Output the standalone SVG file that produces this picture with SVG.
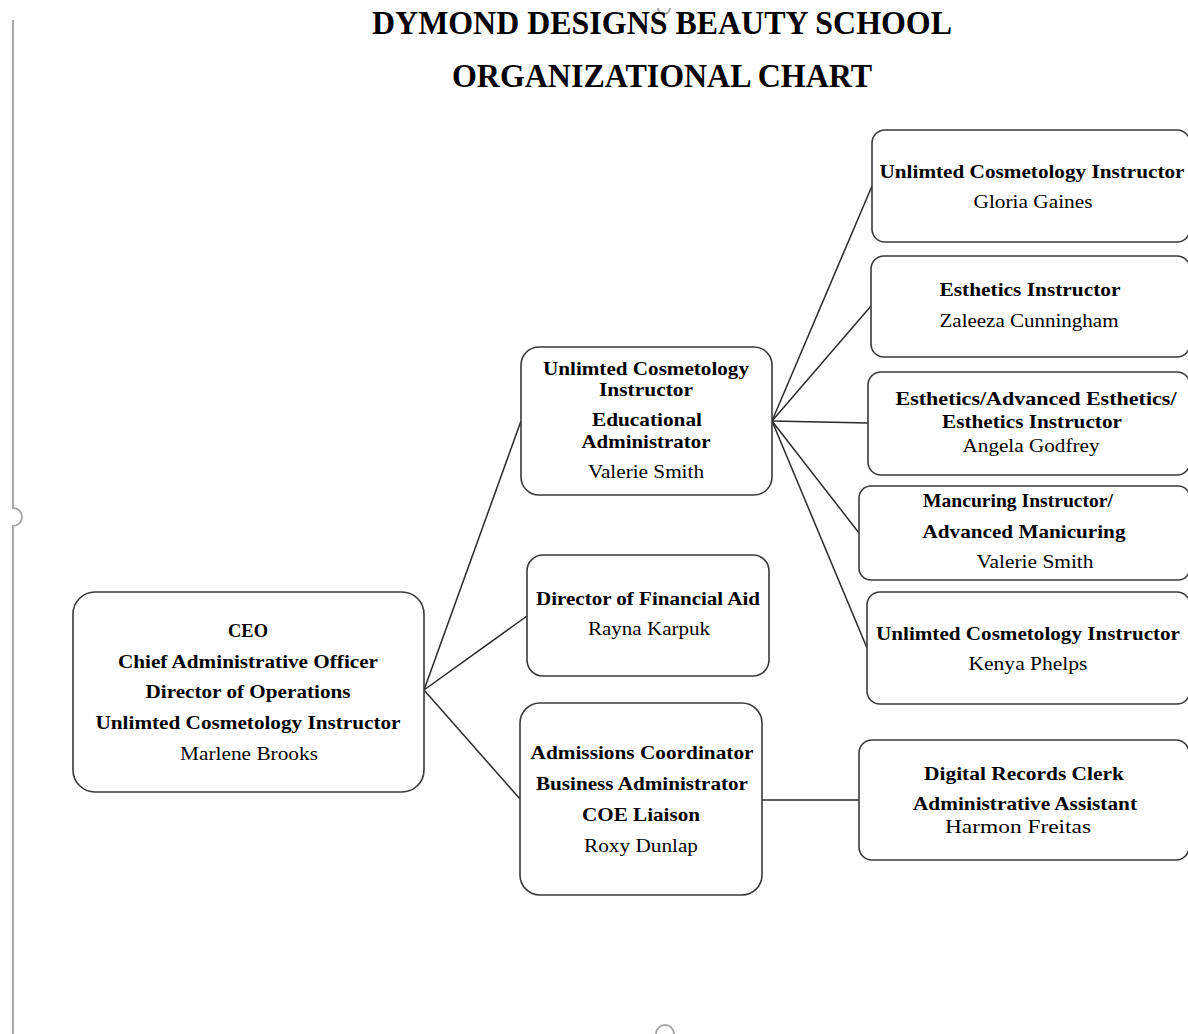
<svg xmlns="http://www.w3.org/2000/svg" width="1188" height="1034" viewBox="0 0 1188 1034">
<style>
.box{fill:#fff;stroke:#3a3a3a;stroke-width:1.6}
.t{font-family:"Liberation Serif","Times New Roman",serif;font-size:19px;font-weight:bold;fill:#000;text-anchor:middle}
.n{font-family:"Liberation Serif","Times New Roman",serif;font-size:19px;fill:#000;text-anchor:middle}
.title{font-family:"Liberation Serif","Times New Roman",serif;font-size:33px;font-weight:bold;fill:#000;text-anchor:middle}
.conn line{stroke:#2a2a2a;stroke-width:1.5}
.frame{fill:none;stroke:#a8a8a8;stroke-width:2}
</style>
<rect width="1188" height="1034" fill="#fff"/>
<g id="frame">
<path class="frame" d="M13 20 V508 A9 9 0 0 1 13 526 V1034"/>
<path class="frame" d="M658 8 A6 6 0 0 0 670 8"/>
<path class="frame" d="M656 1034 A9 9 0 0 1 674 1034"/>
</g>
<g id="title">
<text class="title" x="662" y="34" textLength="580" lengthAdjust="spacingAndGlyphs">DYMOND DESIGNS BEAUTY SCHOOL</text>
<text class="title" x="662" y="87" textLength="420" lengthAdjust="spacingAndGlyphs">ORGANIZATIONAL CHART</text>
</g>
<g class="conn" id="connectors">
<line x1="424" y1="690" x2="521" y2="421"/>
<line x1="424" y1="690" x2="527" y2="616"/>
<line x1="424" y1="690" x2="520" y2="799"/>
<line x1="772" y1="421" x2="872" y2="186"/>
<line x1="772" y1="421" x2="871" y2="306"/>
<line x1="772" y1="421" x2="868" y2="423"/>
<line x1="772" y1="421" x2="859" y2="533"/>
<line x1="772" y1="421" x2="867" y2="648"/>
<line x1="762" y1="800" x2="859" y2="800"/>
</g>
<g id="ceo">
<rect class="box" x="73" y="592" width="351" height="200" rx="22"/>
<text class="t" x="248" y="637" textLength="40" lengthAdjust="spacingAndGlyphs">CEO</text>
<text class="t" x="248" y="668" textLength="260" lengthAdjust="spacingAndGlyphs">Chief Administrative Officer</text>
<text class="t" x="248" y="698" textLength="205" lengthAdjust="spacingAndGlyphs">Director of Operations</text>
<text class="t" x="248" y="729" textLength="305" lengthAdjust="spacingAndGlyphs">Unlimted Cosmetology Instructor</text>
<text class="n" x="249" y="760" textLength="138" lengthAdjust="spacingAndGlyphs">Marlene Brooks</text>
</g>
<g id="valerie-ed">
<rect class="box" x="521" y="347" width="251" height="148" rx="18"/>
<text class="t" x="646" y="375" textLength="206" lengthAdjust="spacingAndGlyphs">Unlimted Cosmetology</text>
<text class="t" x="646" y="396" textLength="94" lengthAdjust="spacingAndGlyphs">Instructor</text>
<text class="t" x="647" y="426" textLength="110" lengthAdjust="spacingAndGlyphs">Educational</text>
<text class="t" x="646" y="448" textLength="129" lengthAdjust="spacingAndGlyphs">Administrator</text>
<text class="n" x="646" y="478" textLength="116" lengthAdjust="spacingAndGlyphs">Valerie Smith</text>
</g>
<g id="finaid">
<rect class="box" x="527" y="555" width="242" height="121" rx="16"/>
<text class="t" x="648" y="605" textLength="224" lengthAdjust="spacingAndGlyphs">Director of Financial Aid</text>
<text class="n" x="649" y="635" textLength="122" lengthAdjust="spacingAndGlyphs">Rayna Karpuk</text>
</g>
<g id="admissions">
<rect class="box" x="520" y="703" width="242" height="192" rx="20"/>
<text class="t" x="642" y="759" textLength="223" lengthAdjust="spacingAndGlyphs">Admissions Coordinator</text>
<text class="t" x="642" y="790" textLength="212" lengthAdjust="spacingAndGlyphs">Business Administrator</text>
<text class="t" x="641" y="821" textLength="118" lengthAdjust="spacingAndGlyphs">COE Liaison</text>
<text class="n" x="641" y="852" textLength="114" lengthAdjust="spacingAndGlyphs">Roxy Dunlap</text>
</g>
<g id="gloria">
<rect class="box" x="872" y="130" width="318" height="112" rx="13"/>
<text class="t" x="1032" y="178" textLength="305" lengthAdjust="spacingAndGlyphs">Unlimted Cosmetology Instructor</text>
<text class="n" x="1033" y="208" textLength="119" lengthAdjust="spacingAndGlyphs">Gloria Gaines</text>
</g>
<g id="zaleeza">
<rect class="box" x="871" y="256" width="319" height="101" rx="13"/>
<text class="t" x="1030" y="296" textLength="181" lengthAdjust="spacingAndGlyphs">Esthetics Instructor</text>
<text class="n" x="1029" y="327" textLength="179" lengthAdjust="spacingAndGlyphs">Zaleeza Cunningham</text>
</g>
<g id="angela">
<rect class="box" x="868" y="372" width="322" height="103" rx="13"/>
<text class="t" x="1036" y="405" textLength="281" lengthAdjust="spacingAndGlyphs">Esthetics/Advanced Esthetics/</text>
<text class="t" x="1032" y="428" textLength="180" lengthAdjust="spacingAndGlyphs">Esthetics Instructor</text>
<text class="n" x="1031" y="452" textLength="137" lengthAdjust="spacingAndGlyphs">Angela Godfrey</text>
</g>
<g id="valerie-mani">
<rect class="box" x="859" y="486" width="331" height="94" rx="12"/>
<text class="t" x="1018" y="507" textLength="190" lengthAdjust="spacingAndGlyphs">Mancuring Instructor/</text>
<text class="t" x="1024" y="538" textLength="203" lengthAdjust="spacingAndGlyphs">Advanced Manicuring</text>
<text class="n" x="1035" y="568" textLength="117" lengthAdjust="spacingAndGlyphs">Valerie Smith</text>
</g>
<g id="kenya">
<rect class="box" x="867" y="592" width="323" height="112" rx="13"/>
<text class="t" x="1028" y="640" textLength="304" lengthAdjust="spacingAndGlyphs">Unlimted Cosmetology Instructor</text>
<text class="n" x="1028" y="670" textLength="119" lengthAdjust="spacingAndGlyphs">Kenya Phelps</text>
</g>
<g id="harmon">
<rect class="box" x="859" y="740" width="330" height="120" rx="13"/>
<text class="t" x="1024" y="780" textLength="200" lengthAdjust="spacingAndGlyphs">Digital Records Clerk</text>
<text class="t" x="1025" y="810" textLength="224" lengthAdjust="spacingAndGlyphs">Administrative Assistant</text>
<text class="n" x="1018" y="833" textLength="146" lengthAdjust="spacingAndGlyphs">Harmon Freitas</text>
</g>
</svg>
